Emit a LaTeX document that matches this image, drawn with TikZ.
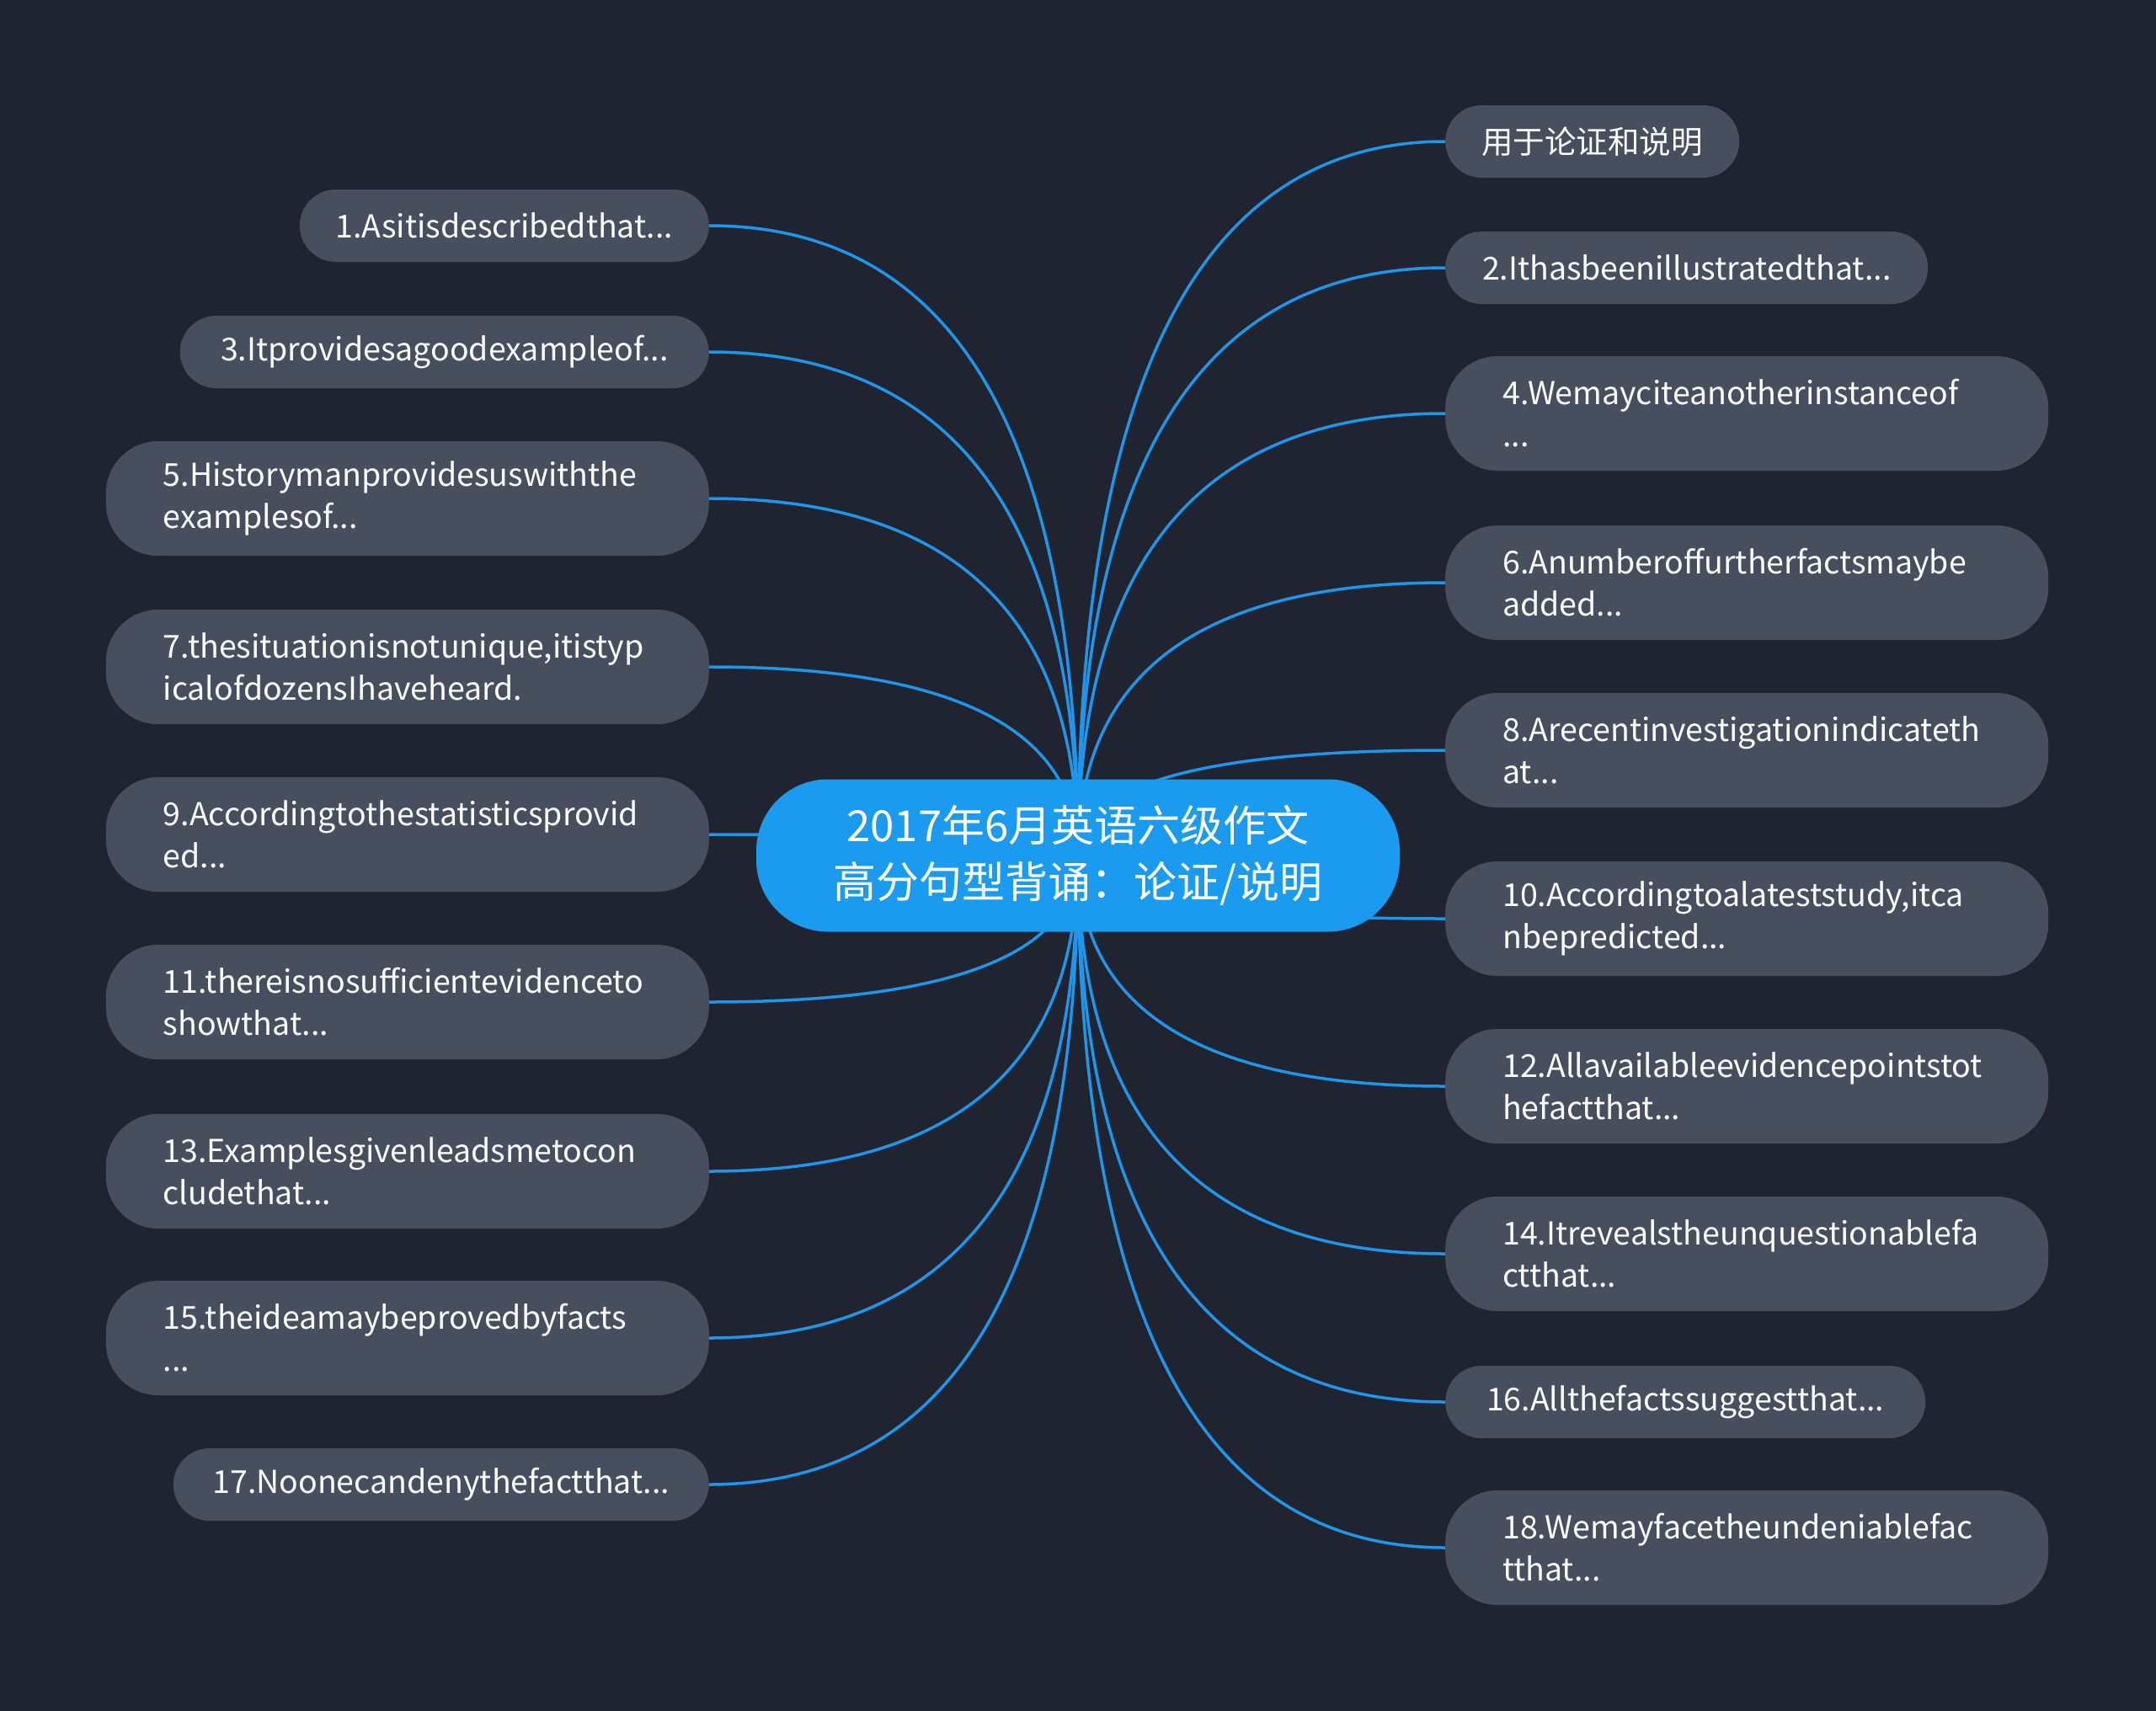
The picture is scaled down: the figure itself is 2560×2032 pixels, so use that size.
\documentclass[tikz,border=0pt]{standalone}
\usepackage{fontspec}
\setmainfont{Noto Sans CJK SC}
\usetikzlibrary{calc}
\definecolor{bgc}{HTML}{202431}
\definecolor{nodec}{HTML}{474F5E}
\definecolor{centc}{HTML}{1B9BEF}
\definecolor{linec}{HTML}{1E96EB}
\pgfdeclarelayer{bg}
\pgfsetlayers{bg,main}
\newcommand\linkto[2]{\draw[conn] (c.center) .. controls ($(c.center)!2/3!(c.center|-#1.#2)$) and ($(#1.#2)!2/3!(c.center|-#1.#2)$) .. (#1.#2);}
\begin{document}
\begin{tikzpicture}[x=1pt,y=-1pt,
  leaf/.style={fill=nodec, text=white, font=\fontsize{37.5}{50}\selectfont, inner sep=0pt, minimum height=86pt, rounded corners=43pt, align=center},
  leaftwo/.style={fill=nodec, text=white, font=\fontsize{37.5}{50}\selectfont, inner xsep=68pt, inner ysep=0pt, text width=580pt, minimum height=136pt, rounded corners=62pt, align=left},
  conn/.style={draw=linec, line width=3.5pt},
  centre/.style={fill=centc, text=white, font=\fontsize{51}{67}\selectfont, minimum width=764pt, minimum height=181pt, rounded corners=85pt, align=center, inner sep=0pt}]
\begin{pgfonlayer}{bg}
\fill[bgc] (0,0) rectangle (2560,2032);
\end{pgfonlayer}
\useasboundingbox (0,0) rectangle (2560,2032);

\node[centre] (c) at (1280,1016) {2017年6月英语六级作文\\高分句型背诵：论证/说明};

% left
\node[leaf, minimum width=486pt, anchor=east] (n1) at (842,268) {1.Asitisdescribedthat...};
\node[leaf, minimum width=628pt, anchor=east] (n3) at (842,418) {3.Itprovidesagoodexampleof...};
\node[leaftwo, anchor=east] (n5) at (842,592) {5.Historymanprovidesuswiththe\\examplesof...};
\node[leaftwo, anchor=east] (n7) at (842,792) {7.thesituationisnotunique,itistyp\\icalofdozensIhaveheard.};
\node[leaftwo, anchor=east] (n9) at (842,991) {9.Accordingtothestatisticsprovid\\ed...};
\node[leaftwo, anchor=east] (n11) at (842,1190) {11.thereisnosufficientevidenceto\\showthat...};
\node[leaftwo, anchor=east] (n13) at (842,1391) {13.Examplesgivenleadsmetocon\\cludethat...};
\node[leaftwo, anchor=east] (n15) at (842,1589) {15.theideamaybeprovedbyfacts\\...};
\node[leaf, minimum width=636pt, anchor=east] (n17) at (842,1763) {17.Noonecandenythefactthat...};

% right
\node[leaf, minimum width=349pt, anchor=west] (r0) at (1716,168) {用于论证和说明};
\node[leaf, minimum width=573pt, anchor=west] (r2) at (1716,318) {2.Ithasbeenillustratedthat...};
\node[leaftwo, anchor=west] (r4) at (1716,491) {4.Wemayciteanotherinstanceof\\...};
\node[leaftwo, anchor=west] (r6) at (1716,692) {6.Anumberoffurtherfactsmaybe\\added...};
\node[leaftwo, anchor=west] (r8) at (1716,891) {8.Arecentinvestigationindicateth\\at...};
\node[leaftwo, anchor=west] (r10) at (1716,1091) {10.Accordingtoalateststudy,itca\\nbepredicted...};
\node[leaftwo, anchor=west] (r12) at (1716,1290) {12.Allavailableevidencepointstot\\hefactthat...};
\node[leaftwo, anchor=west] (r14) at (1716,1489) {14.Itrevealstheunquestionablefa\\ctthat...};
\node[leaf, minimum width=570pt, anchor=west] (r16) at (1716,1665) {16.Allthefactssuggestthat...};
\node[leaftwo, anchor=west] (r18) at (1716,1838) {18.Wemayfacetheundeniablefac\\tthat...};

\begin{pgfonlayer}{bg}
\foreach \n in {n1,n3,n5,n7,n9,n11,n13,n15,n17} {\linkto{\n}{east}}
\foreach \n in {r0,r2,r4,r6,r8,r10,r12,r14,r16,r18} {\linkto{\n}{west}}
\end{pgfonlayer}
\end{tikzpicture}
\end{document}
